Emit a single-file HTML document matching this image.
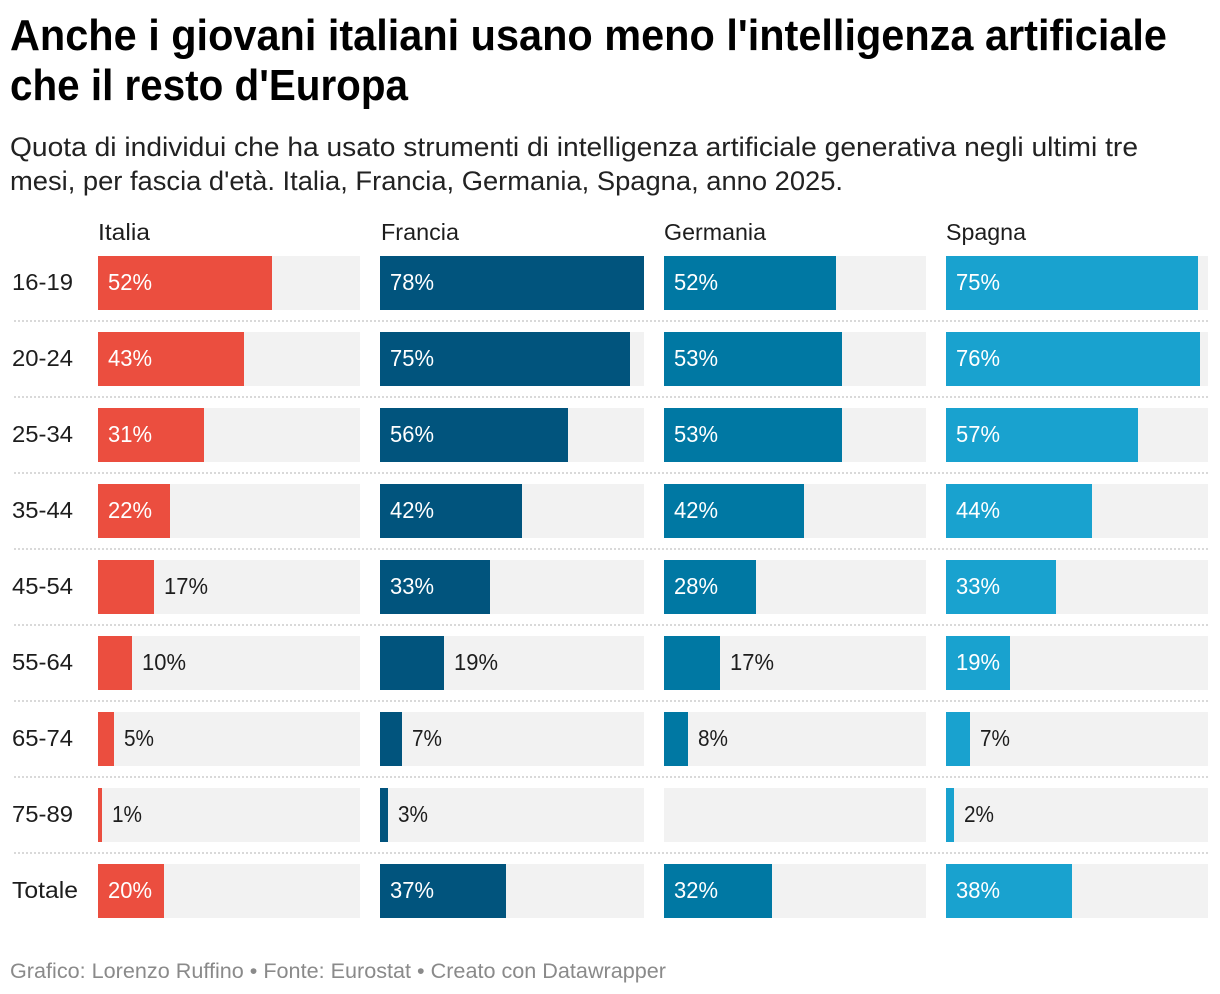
<!DOCTYPE html>
<html lang="it">
<head>
<meta charset="utf-8">
<title>Anche i giovani italiani usano meno l'intelligenza artificiale che il resto d'Europa</title>
<style>
html,body{margin:0;padding:0;background:#fff;width:1220px;height:994px;overflow:hidden}
svg{display:block;font-family:"Liberation Sans",Arial,sans-serif}
</style>
</head>
<body>
<svg id="chart" xmlns="http://www.w3.org/2000/svg" width="1220" height="994" viewBox="0 0 1220 994">
  <g>
    <text x="10" y="50" font-size="44" font-weight="700" fill="#000" textLength="1157" lengthAdjust="spacingAndGlyphs">Anche i giovani italiani usano meno l'intelligenza artificiale</text>
    <text x="10" y="100" font-size="44" font-weight="700" fill="#000" textLength="398" lengthAdjust="spacingAndGlyphs">che il resto d'Europa</text>
    <text x="10" y="156" font-size="26.5" fill="#222" textLength="1128" lengthAdjust="spacingAndGlyphs">Quota di individui che ha usato strumenti di intelligenza artificiale generativa negli ultimi tre</text>
    <text x="10" y="190" font-size="26.5" fill="#222" textLength="833" lengthAdjust="spacingAndGlyphs">mesi, per fascia d'età. Italia, Francia, Germania, Spagna, anno 2025.</text>
  </g>
  <g id="plot"></g>
  <text x="10" y="978" font-size="21" fill="#8a8a8a" textLength="656" lengthAdjust="spacingAndGlyphs">Grafico: Lorenzo Ruffino • Fonte: Eurostat • Creato con Datawrapper</text>
</svg>
<script>
var ageGroups = ['16-19', '20-24', '25-34', '35-44', '45-54', '55-64', '65-74', '75-89', 'Totale'];
var countries = ['Italia', 'Francia', 'Germania', 'Spagna'];
var italiaValues = [52.1, 43.45, 31.49, 21.54, 16.76, 10.2, 4.8, 1.2, 19.75];
var franciaValues = [78.4, 74.5, 55.8, 42.2, 32.7, 18.9, 6.5, 2.5, 37.4];
var germaniaValues = [51.5, 53.3, 53.3, 41.9, 27.5, 16.8, 7.5, null, 32.3];
var spagnaValues = [75.4, 76, 57.4, 43.7, 32.9, 19.2, 7.2, 2.4, 37.7];
var domainMax = 78.4;

var seriesValues = [italiaValues, franciaValues, germaniaValues, spagnaValues];
var panelColors = ['#eb4e3f', '#01547d', '#0078a3', '#19a2cf'];
var panelLeft = [98, 380, 664, 946];
var panelRight = [360, 644, 926, 1208];
var headerWidths = [52, 78, 102, 80];
var rowLabelWidths = [61, 61, 61, 61, 61, 61, 61, 61, 66];
var plotTop = 256;
var rowStep = 76;
var barHeight = 54;
var insideThreshold = 19;

var NS = 'http://www.w3.org/2000/svg';
var plot = document.getElementById('plot');

function make(tag, parent) {
  var el = document.createElementNS(NS, tag);
  parent.appendChild(el);
  return el;
}
function slug(s) {
  return s.toLowerCase().replace(/[^a-z0-9]+/g, '-');
}
function yScale(i) {
  return plotTop + i * rowStep;
}
function xScale(v, p) {
  var w = panelRight[p] - panelLeft[p];
  return Math.floor((v / domainMax) * w / 2 + 0.45) * 2;
}
function labelWidth(text) {
  return 14 * text.length + 2;
}

ageGroups.forEach(function (age, r) {
  var rowLabel = make('text', plot);
  
  
  rowLabel.setAttribute('x', 12);
  rowLabel.setAttribute('y', yScale(r) + 34);
  rowLabel.setAttribute('font-size', 23.5);
  rowLabel.setAttribute('fill', '#1d1d1d');
  rowLabel.setAttribute('textLength', rowLabelWidths[r]);
  rowLabel.setAttribute('lengthAdjust', 'spacingAndGlyphs');
  rowLabel.textContent = age;

  if (r < ageGroups.length - 1) {
    var sep = make('line', plot);
    
    
    sep.setAttribute('x1', 14);
    sep.setAttribute('x2', 1208);
    sep.setAttribute('y1', yScale(r) + 65);
    sep.setAttribute('y2', yScale(r) + 65);
    sep.setAttribute('stroke', '#d9d9d9');
    sep.setAttribute('stroke-width', 2);
    sep.setAttribute('stroke-dasharray', '2 2');
  }
});

countries.forEach(function (country, p) {
  var group = make('g', plot);
  
  

  var header = make('text', group);
  
  
  header.setAttribute('x', panelLeft[p] + (p === 1 ? 1 : 0));
  header.setAttribute('y', 240);
  header.setAttribute('font-size', 23.5);
  header.setAttribute('fill', '#1d1d1d');
  header.setAttribute('textLength', headerWidths[p]);
  header.setAttribute('lengthAdjust', 'spacingAndGlyphs');
  header.textContent = country;

  ageGroups.forEach(function (age, r) {
    var y = yScale(r);
    var x0 = panelLeft[p];
    var v = seriesValues[p][r];

    var track = make('rect', group);
    
    
    track.setAttribute('x', x0);
    track.setAttribute('y', y);
    track.setAttribute('width', panelRight[p] - x0);
    track.setAttribute('height', barHeight);
    track.setAttribute('fill', '#f2f2f2');

    if (v === null) return;

    var w = xScale(v, p);
    var bar = make('rect', group);
    
    
    bar.setAttribute('x', x0);
    bar.setAttribute('y', y);
    bar.setAttribute('width', w);
    bar.setAttribute('height', barHeight);
    bar.setAttribute('fill', panelColors[p]);

    var inside = v >= insideThreshold;
    var text = Math.round(v) + '%';
    var label = make('text', group);
    
    
    label.setAttribute('x', inside ? x0 + 10 : x0 + w + 10);
    label.setAttribute('y', y + 34);
    label.setAttribute('font-size', 23.5);
    label.setAttribute('fill', inside ? '#ffffff' : '#1d1d1d');
    label.setAttribute('textLength', labelWidth(text));
    label.setAttribute('lengthAdjust', 'spacingAndGlyphs');
    label.textContent = text;
  });
});
</script>
</body>
</html>
